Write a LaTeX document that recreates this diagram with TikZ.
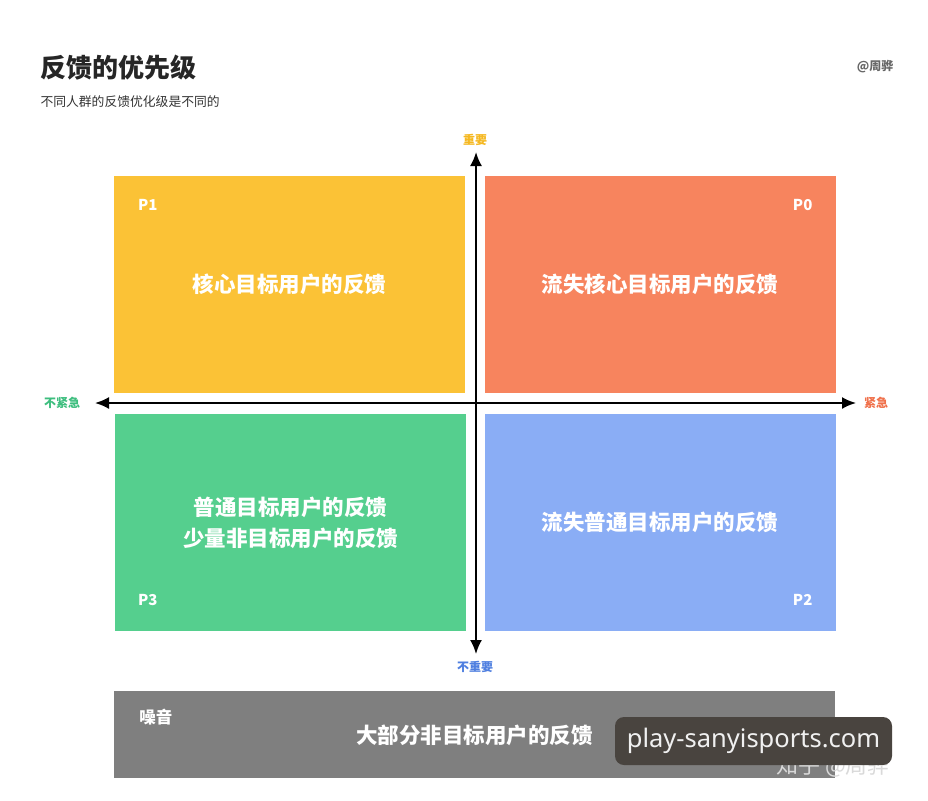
\documentclass[tikz,border=0pt]{standalone}
\usepackage{fontspec}
\newfontfamily\cjk{Noto Sans CJK SC}
\newfontfamily\latinfont{Noto Sans}
\usetikzlibrary{calc,arrows.meta}
\definecolor{pone}{HTML}{FBC236}
\definecolor{pzero}{HTML}{F7845E}
\definecolor{pthree}{HTML}{55CF8E}
\definecolor{ptwo}{HTML}{8AADF5}
\definecolor{noise}{HTML}{7F7F7F}
\definecolor{overlay}{HTML}{49443F}

\begin{document}
\begin{tikzpicture}[x=1pt, y=-1pt, font=\cjk,
    quadbox/.style={minimum width=351pt, minimum height=217pt, inner sep=0pt},
    quadtext/.style={text=white, font=\cjk\bfseries\fontsize{21.5}{31}\selectfont, align=center},
    plabel/.style={text=white, font=\cjk\bfseries\fontsize{15}{18}\selectfont},
    axislabel/.style={font=\cjk\bfseries\fontsize{12}{14}\selectfont},
    axis/.style={line width=2pt, {Latex[length=14pt,width=12pt]}-{Latex[length=14pt,width=12pt]}}]
    \useasboundingbox (0,0) rectangle (928,800);
    \fill[white] (0,0) rectangle (928,800);

    % =====================
    % Header
    % =====================
    \node[anchor=west, font=\cjk\bfseries\fontsize{26}{30}\selectfont, text=black!85] (title) at (37,68) {反馈的优先级};
    \node[anchor=west, font=\cjk\fontsize{12.8}{15}\selectfont, text=black!80] (subtitle) at (37,102) {不同人群的反馈优化级是不同的};
    \node[anchor=east, font=\cjk\bfseries\fontsize{12}{14}\selectfont, text=black!60] (author) at (897,67) {@周骅};

    % =====================
    % Quadrants
    % =====================
    \node[quadbox, fill=pone] (qone) at (289.5,284.5) {};
    \node[quadbox, fill=pzero] (qzero) at (660,284.5) {};
    \node[quadbox, fill=pthree] (qthree) at (290.5,522.5) {};
    \node[quadbox, fill=ptwo] (qtwo) at (660,522.5) {};

    \node[quadtext] (tone) at (qone) {核心目标用户的反馈};
    \node[quadtext] (tzero) at (qzero) {流失核心目标用户的反馈};
    \node[quadtext] (tthree) at (qthree) {普通目标用户的反馈\\少量非目标用户的反馈};
    \node[quadtext] (ttwo) at (qtwo) {流失普通目标用户的反馈};

    % Priority tags
    \node[plabel] (lone) at ($(qone.north west)+(34,29)$) {P1};
    \node[plabel] (lzero) at ($(qzero.north east)+(-33,29)$) {P0};
    \node[plabel] (lthree) at ($(qthree.south west)+(33,-31)$) {P3};
    \node[plabel] (ltwo) at ($(qtwo.south east)+(-33,-31)$) {P2};

    % =====================
    % Axes
    % =====================
    \coordinate (left) at (95,403);
    \coordinate (right) at (856,403);
    \coordinate (top) at (476,152);
    \coordinate (bottom) at (476,654);
    \draw[axis] (left) -- (right);
    \draw[axis] (top) -- (bottom);

    \node[axislabel, text={rgb,255:red,245;green,184;blue,32}] (important) at (475,140) {重要};
    \node[axislabel, text={rgb,255:red,61;green,190;blue,126}] (noturgent) at (62,403) {不紧急};
    \node[axislabel, text={rgb,255:red,240;green,112;blue,74}] (urgent) at (876,403) {紧急};
    \node[axislabel, text={rgb,255:red,79;green,127;blue,224}] (notimportant) at (475,667) {不重要};

    % =====================
    % Noise
    % =====================
    \node[fill=noise, minimum width=721pt, minimum height=87pt, inner sep=0pt] (noisebox) at (474.5,734.5) {};
    \node[plabel, font=\cjk\bfseries\fontsize{16.5}{18}\selectfont] (lnoise) at ($(noisebox.north west)+(42,26)$) {噪音};
    \node[quadtext, font=\cjk\bfseries\fontsize{21.5}{28}\selectfont] (tnoise) at ($(noisebox.center)+(0,1)$) {大部分非目标用户的反馈};

    % Watermarks
    \node[font=\cjk\fontsize{22}{24}\selectfont, text=white!85!black] (zhihu) at (833,766) {知乎 @周骅};
    \node[fill=overlay, rounded corners=9pt, minimum width=277pt, minimum height=48pt, inner sep=0pt,
        text={rgb,255:red,240;green,240;blue,240}, font=\latinfont\fontsize{25.5}{28}\selectfont] (site) at (753.5,741) {play-sanyisports.com};
\end{tikzpicture}
\end{document}
